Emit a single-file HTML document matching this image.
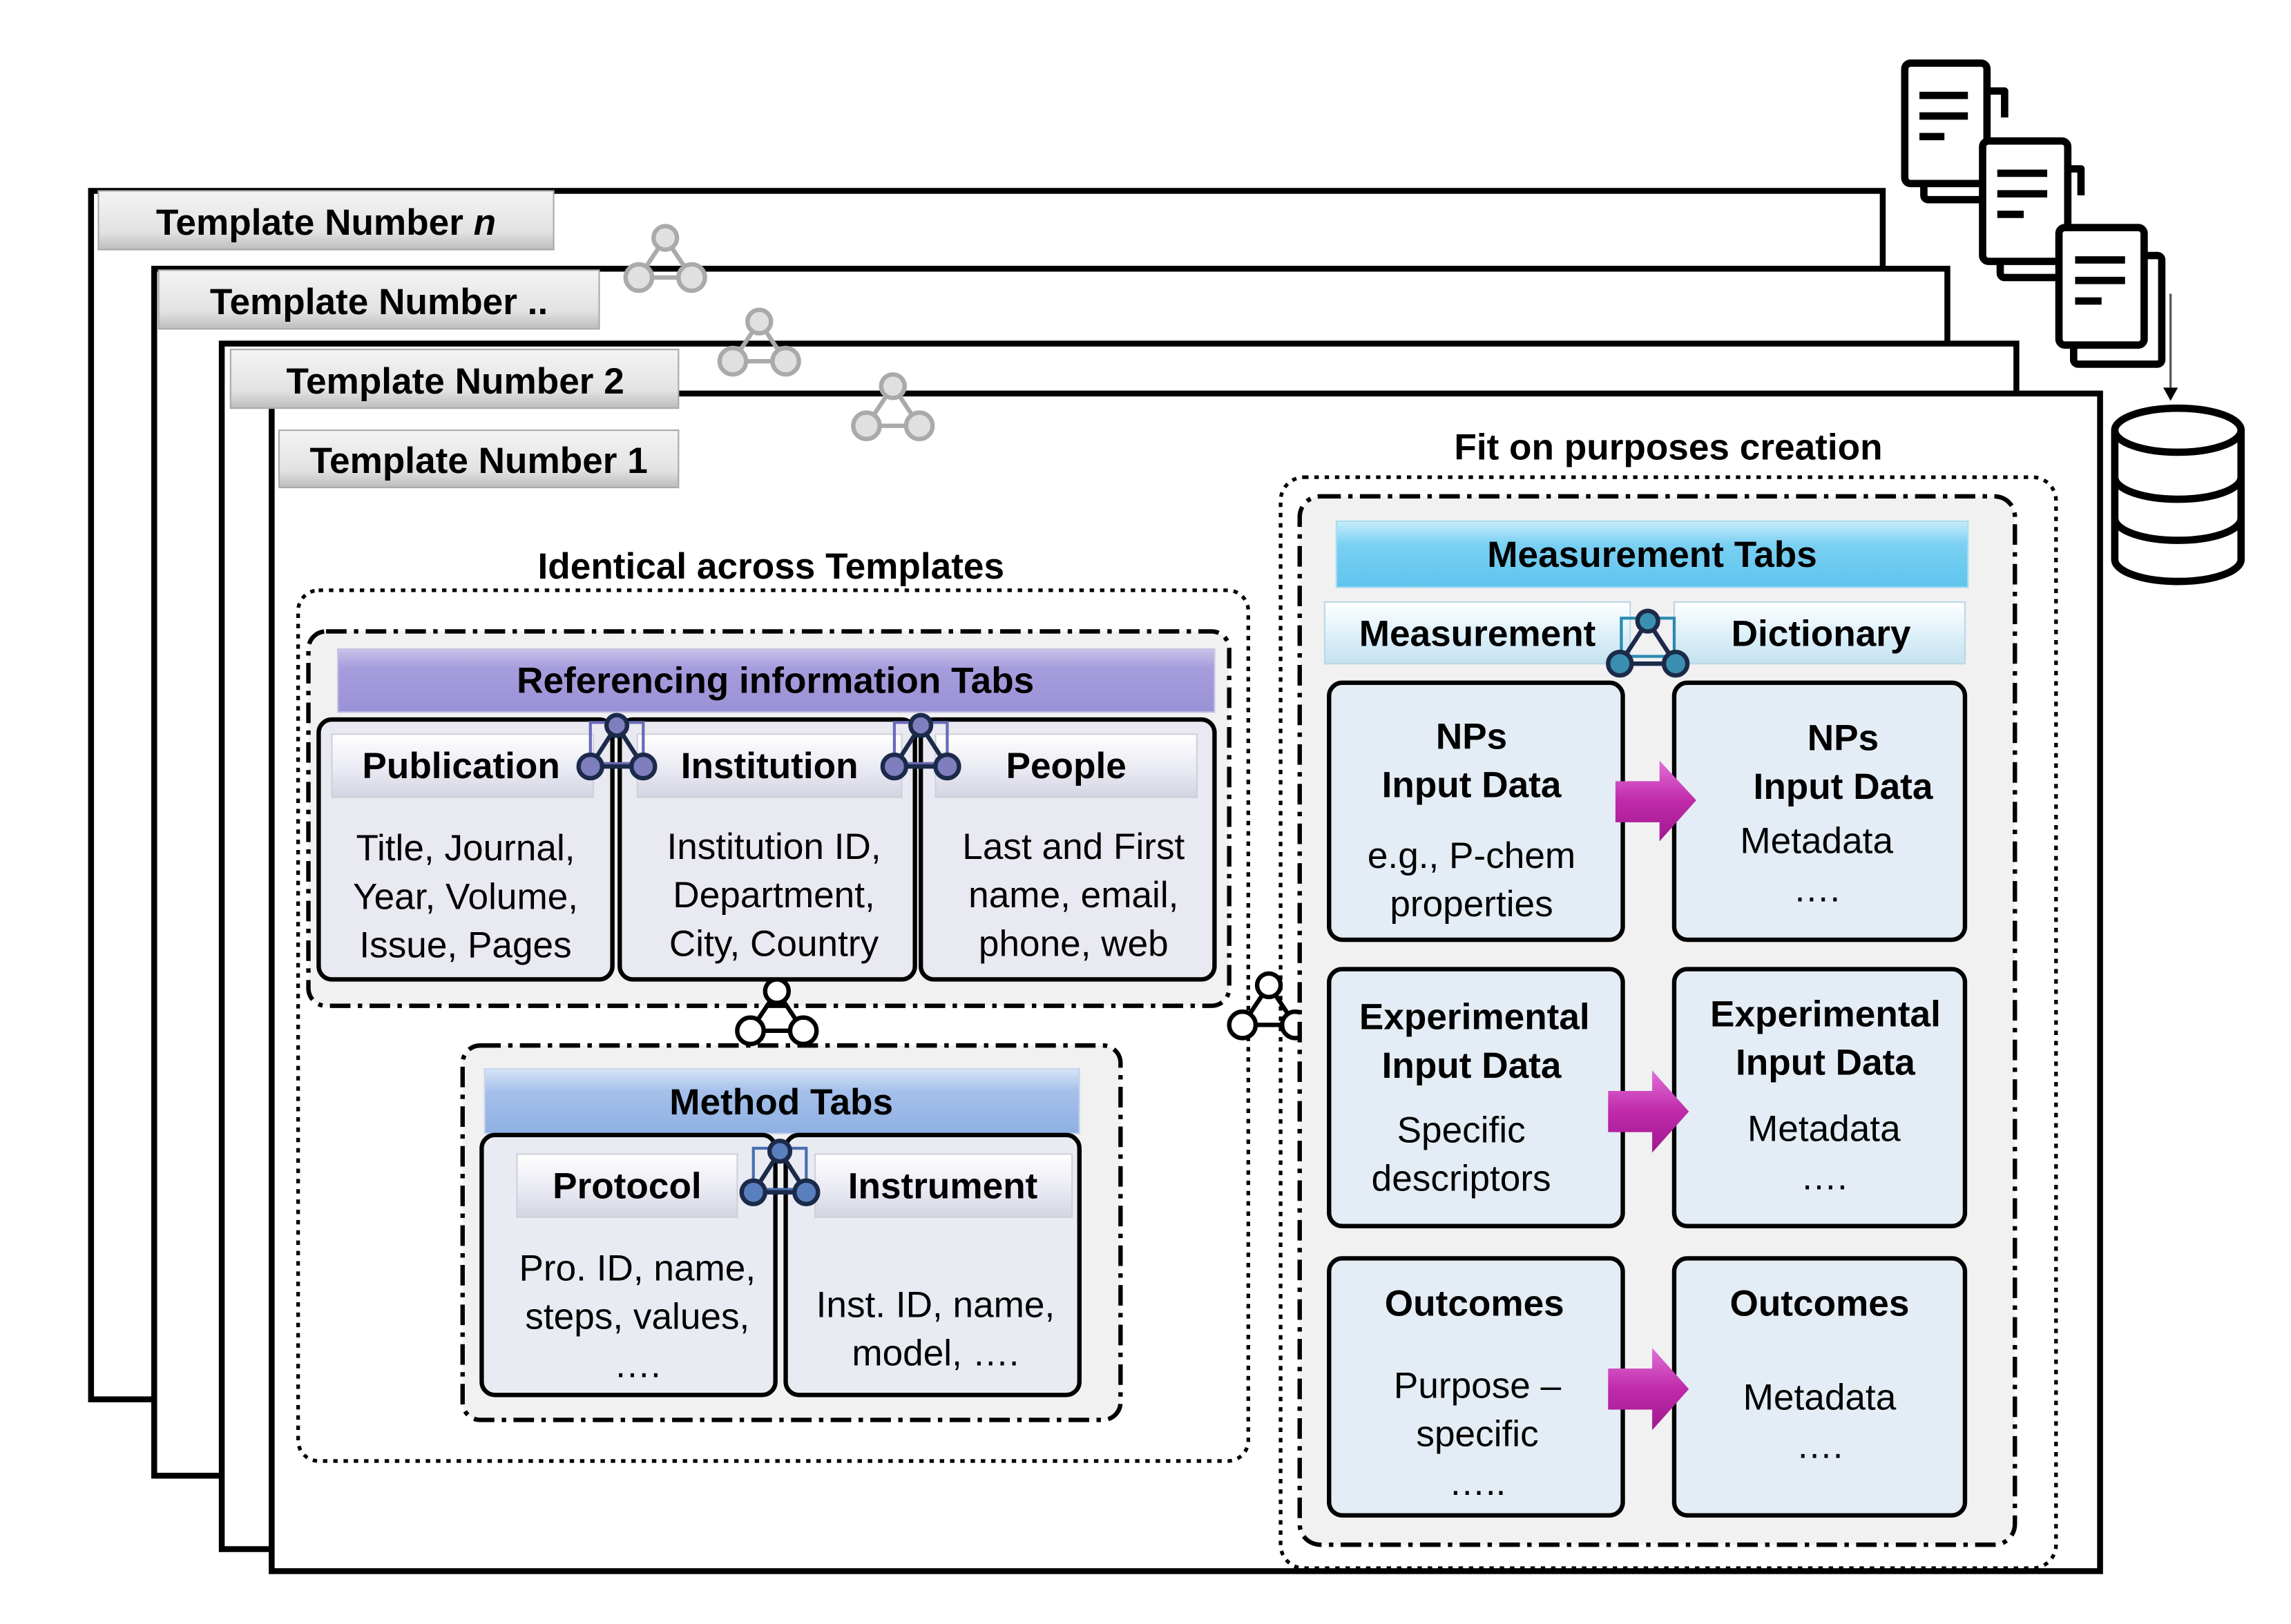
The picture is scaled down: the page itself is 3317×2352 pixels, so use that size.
<!DOCTYPE html>
<html><head><meta charset="utf-8">
<style>
html,body{margin:0;padding:0;background:#fff;}
svg{display:block;}
text{font-family:"Liberation Sans",Arial,sans-serif;fill:#000;}
.b{font-weight:bold;}
</style></head>
<body>
<svg width="3317" height="2352" viewBox="0 0 1560 1106" preserveAspectRatio="none" xmlns="http://www.w3.org/2000/svg">
<defs>
<linearGradient id="gray" x1="0" y1="0" x2="0" y2="1"><stop offset="0" stop-color="#f4f4f4"/><stop offset="0.7" stop-color="#e2e2e2"/><stop offset="1" stop-color="#bdbdbd"/></linearGradient>
<linearGradient id="purp" x1="0" y1="0" x2="0" y2="1"><stop offset="0" stop-color="#c9c3ea"/><stop offset="0.3" stop-color="#a59ddc"/><stop offset="1" stop-color="#9a92d6"/></linearGradient>
<linearGradient id="blue" x1="0" y1="0" x2="0" y2="1"><stop offset="0" stop-color="#d6e4f8"/><stop offset="0.35" stop-color="#a5c0ea"/><stop offset="1" stop-color="#8fb0e4"/></linearGradient>
<linearGradient id="cyan" x1="0" y1="0" x2="0" y2="1"><stop offset="0" stop-color="#c8ecfb"/><stop offset="0.35" stop-color="#7ad0f2"/><stop offset="1" stop-color="#5fc4ee"/></linearGradient>
<linearGradient id="sub" x1="0" y1="0" x2="0" y2="1"><stop offset="0" stop-color="#ffffff"/><stop offset="0.6" stop-color="#e8e8f2"/><stop offset="1" stop-color="#d4d4e2"/></linearGradient>
<linearGradient id="subc" x1="0" y1="0" x2="0" y2="1"><stop offset="0" stop-color="#ffffff"/><stop offset="0.6" stop-color="#d9eef8"/><stop offset="1" stop-color="#c4e2f0"/></linearGradient>
<linearGradient id="mag" x1="0" y1="0" x2="0" y2="1"><stop offset="0" stop-color="#e070d8"/><stop offset="0.5" stop-color="#c02aaa"/><stop offset="1" stop-color="#a01890"/></linearGradient>
</defs>

<!-- Template frames -->
<rect x="62" y="130" width="1220" height="823" fill="#fff" stroke="#000" stroke-width="4"/>
<rect x="105" y="183" width="1221" height="822" fill="#fff" stroke="#000" stroke-width="4"/>
<rect x="151" y="234" width="1222" height="821" fill="#fff" stroke="#000" stroke-width="4"/>
<rect x="185" y="268" width="1245" height="802" fill="#fff" stroke="#000" stroke-width="4"/>

<rect x="67" y="130" width="310" height="40" fill="url(#gray)" stroke="#aaa" stroke-width="1"/>
<text x="222" y="160" class="b" font-size="25" text-anchor="middle">Template Number <tspan font-style="italic">n</tspan></text>
<rect x="108" y="184" width="300" height="40" fill="url(#gray)" stroke="#aaa" stroke-width="1"/>
<text x="258" y="214" class="b" font-size="25" text-anchor="middle">Template Number ..</text>
<rect x="157" y="238" width="305" height="40" fill="url(#gray)" stroke="#aaa" stroke-width="1"/>
<text x="310" y="268" class="b" font-size="25" text-anchor="middle">Template Number 2</text>
<rect x="190" y="293" width="272" height="39" fill="url(#gray)" stroke="#aaa" stroke-width="1"/>
<text x="326" y="322" class="b" font-size="25" text-anchor="middle">Template Number 1</text>

<!-- gray network icons -->
<g fill="#e0e0e0" stroke="#aaa" stroke-width="3">
<g transform="translate(453,172)"><line x1="0" y1="-10" x2="-18" y2="17"/><line x1="0" y1="-10" x2="18" y2="17"/><line x1="-18" y1="17" x2="18" y2="17"/><circle cx="0" cy="-10" r="8"/><circle cx="-18" cy="17" r="9"/><circle cx="18" cy="17" r="9"/></g>
<g transform="translate(517,229)"><line x1="0" y1="-10" x2="-18" y2="17"/><line x1="0" y1="-10" x2="18" y2="17"/><line x1="-18" y1="17" x2="18" y2="17"/><circle cx="0" cy="-10" r="8"/><circle cx="-18" cy="17" r="9"/><circle cx="18" cy="17" r="9"/></g>
<g transform="translate(608,273)"><line x1="0" y1="-10" x2="-18" y2="17"/><line x1="0" y1="-10" x2="18" y2="17"/><line x1="-18" y1="17" x2="18" y2="17"/><circle cx="0" cy="-10" r="8"/><circle cx="-18" cy="17" r="9"/><circle cx="18" cy="17" r="9"/></g>
</g>

<!-- documents -->
<g fill="#fff" stroke="#000" stroke-width="5" stroke-linejoin="round">
<path d="M1340,62 h25 v18" fill="none"/>
<rect x="1310" y="110" width="45" height="26" rx="3"/>
<rect x="1297" y="43" width="56" height="82" rx="4"/>
<path d="M1395,115 h22 v18" fill="none"/>
<rect x="1362" y="165" width="45" height="24" rx="3"/>
<rect x="1350" y="96" width="58" height="82" rx="4"/>
<rect x="1412" y="174" width="60" height="74" rx="3"/>
<rect x="1402" y="155" width="58" height="80" rx="4"/>
</g>
<g stroke="#000" stroke-width="5">
<line x1="1307" y1="65" x2="1340" y2="65"/><line x1="1307" y1="79" x2="1340" y2="79"/><line x1="1307" y1="93" x2="1324" y2="93"/>
<line x1="1360" y1="118" x2="1394" y2="118"/><line x1="1360" y1="132" x2="1394" y2="132"/><line x1="1360" y1="146" x2="1378" y2="146"/>
<line x1="1413" y1="177" x2="1447" y2="177"/><line x1="1413" y1="191" x2="1447" y2="191"/><line x1="1413" y1="205" x2="1431" y2="205"/>
</g>
<line x1="1478" y1="200" x2="1478" y2="266" stroke="#555" stroke-width="1.5"/>
<polygon points="1473,264 1483,264 1478,273" fill="#000"/>
<!-- database -->
<g fill="#fff" stroke="#000" stroke-width="5">
<path d="M1440,293 v88 a43,15 0 0 0 86,0 v-88"/>
<ellipse cx="1483" cy="293" rx="43" ry="15"/>
<path d="M1440,325 a43,15 0 0 0 86,0" fill="none"/>
<path d="M1440,353 a43,15 0 0 0 86,0" fill="none"/>
</g>

<!-- Left region -->
<text x="525" y="394" class="b" font-size="25" text-anchor="middle">Identical across Templates</text>
<rect x="203" y="402" width="647" height="593" rx="14" fill="none" stroke="#000" stroke-width="2.5" stroke-dasharray="3,4"/>
<rect x="210" y="430" width="627" height="255" rx="12" fill="#f1f1f1" stroke="#000" stroke-width="3" stroke-dasharray="14,5,3,5"/>
<rect x="230" y="442" width="597" height="43" fill="url(#purp)" stroke="#c8c4e4" stroke-width="1"/>
<text x="528" y="472" class="b" font-size="25" text-anchor="middle">Referencing information Tabs</text>

<g fill="#e9e9f1" stroke="#000" stroke-width="3">
<rect x="217" y="490" width="200" height="177" rx="9"/>
<rect x="422" y="490" width="201" height="177" rx="9"/>
<rect x="627" y="490" width="200" height="177" rx="9"/>
</g>
<g fill="url(#sub)" stroke="#d0d0dc" stroke-width="1">
<rect x="226" y="500" width="178" height="43"/>
<rect x="434" y="500" width="180" height="43"/>
<rect x="637" y="500" width="178" height="43"/>
</g>
<text x="314" y="530" class="b" font-size="25" text-anchor="middle">Publication</text>
<text x="524" y="530" class="b" font-size="25" text-anchor="middle">Institution</text>
<text x="726" y="530" class="b" font-size="25" text-anchor="middle">People</text>
<g font-size="25" text-anchor="middle">
<text x="317" y="586">Title, Journal,</text><text x="317" y="619">Year, Volume,</text><text x="317" y="652">Issue, Pages</text>
<text x="527" y="585">Institution ID,</text><text x="527" y="618">Department,</text><text x="527" y="651">City, Country</text>
<text x="731" y="585">Last and First</text><text x="731" y="618">name, email,</text><text x="731" y="651">phone, web</text>
</g>

<!-- Method -->
<rect x="315" y="712" width="448" height="255" rx="12" fill="#f1f1f1" stroke="#000" stroke-width="3" stroke-dasharray="14,5,3,5"/>
<rect x="330" y="728" width="405" height="44" fill="url(#blue)" stroke="#c8d4ec" stroke-width="1"/>
<text x="532" y="759" class="b" font-size="25" text-anchor="middle">Method Tabs</text>
<g fill="#e9ebf3" stroke="#000" stroke-width="3">
<rect x="328" y="773" width="200" height="177" rx="9"/>
<rect x="535" y="773" width="200" height="177" rx="9"/>
</g>
<g fill="url(#sub)" stroke="#d0d0dc" stroke-width="1">
<rect x="352" y="786" width="150" height="43"/>
<rect x="555" y="786" width="175" height="43"/>
</g>
<text x="427" y="816" class="b" font-size="25" text-anchor="middle">Protocol</text>
<text x="642" y="816" class="b" font-size="25" text-anchor="middle">Instrument</text>
<g font-size="25" text-anchor="middle">
<text x="434" y="872">Pro. ID, name,</text><text x="434" y="905">steps, values,</text><text x="434" y="938">….</text>
<text x="637" y="897">Inst. ID, name,</text><text x="637" y="930">model, ….</text>
</g>

<!-- black network icons -->
<g fill="#fff" stroke="#000" stroke-width="3">
<g transform="translate(529,685)"><line x1="0" y1="-10" x2="-18" y2="17"/><line x1="0" y1="-10" x2="18" y2="17"/><line x1="-18" y1="17" x2="18" y2="17"/><circle cx="0" cy="-10" r="8"/><circle cx="-18" cy="17" r="9"/><circle cx="18" cy="17" r="9"/></g>
<g transform="translate(864,681)"><line x1="0" y1="-10" x2="-18" y2="17"/><line x1="0" y1="-10" x2="18" y2="17"/><line x1="-18" y1="17" x2="18" y2="17"/><circle cx="0" cy="-10" r="8"/><circle cx="-18" cy="17" r="9"/><circle cx="18" cy="17" r="9"/></g>
</g>
<g stroke="#1c2a4a" stroke-width="3">
<g transform="translate(420,500)" fill="#7f7fbf"><rect x="-18" y="-8" width="36" height="28" fill="none" stroke="#6a6ab8" stroke-width="2"/><line x1="0" y1="-6" x2="-18" y2="22"/><line x1="0" y1="-6" x2="18" y2="22"/><line x1="-18" y1="22" x2="18" y2="22"/><circle cx="0" cy="-6" r="7"/><circle cx="-18" cy="22" r="8"/><circle cx="18" cy="22" r="8"/></g>
<g transform="translate(627,500)" fill="#7f7fbf"><rect x="-18" y="-8" width="36" height="28" fill="none" stroke="#6a6ab8" stroke-width="2"/><line x1="0" y1="-6" x2="-18" y2="22"/><line x1="0" y1="-6" x2="18" y2="22"/><line x1="-18" y1="22" x2="18" y2="22"/><circle cx="0" cy="-6" r="7"/><circle cx="-18" cy="22" r="8"/><circle cx="18" cy="22" r="8"/></g>
<g transform="translate(531,790)" fill="#5a7fbf"><rect x="-18" y="-8" width="36" height="28" fill="none" stroke="#4a6fb0" stroke-width="2"/><line x1="0" y1="-6" x2="-18" y2="22"/><line x1="0" y1="-6" x2="18" y2="22"/><line x1="-18" y1="22" x2="18" y2="22"/><circle cx="0" cy="-6" r="7"/><circle cx="-18" cy="22" r="8"/><circle cx="18" cy="22" r="8"/></g>
</g>

<!-- Right region -->
<text x="1136" y="313" class="b" font-size="25" text-anchor="middle">Fit on purposes creation</text>
<rect x="872" y="325" width="528" height="743" rx="16" fill="none" stroke="#000" stroke-width="2.5" stroke-dasharray="3,4"/>
<rect x="885" y="338" width="487" height="714" rx="14" fill="#f1f1f1" stroke="#000" stroke-width="3" stroke-dasharray="14,5,3,5"/>
<rect x="910" y="355" width="430" height="45" fill="url(#cyan)" stroke="#a8dcf0" stroke-width="1"/>
<text x="1125" y="386" class="b" font-size="25" text-anchor="middle">Measurement Tabs</text>
<g fill="url(#subc)" stroke="#b8d8e8" stroke-width="1">
<rect x="902" y="410" width="208" height="42"/>
<rect x="1140" y="410" width="198" height="42"/>
</g>
<text x="1006" y="440" class="b" font-size="25" text-anchor="middle">Measurement</text>
<text x="1240" y="440" class="b" font-size="25" text-anchor="middle">Dictionary</text>

<g fill="#e4edf5" stroke="#000" stroke-width="3">
<rect x="905" y="465" width="200" height="175" rx="9"/>
<rect x="1140" y="465" width="198" height="175" rx="9"/>
<rect x="905" y="660" width="200" height="175" rx="9"/>
<rect x="1140" y="660" width="198" height="175" rx="9"/>
<rect x="905" y="857" width="200" height="175" rx="9"/>
<rect x="1140" y="857" width="198" height="175" rx="9"/>
</g>
<g stroke="#1c2a4a" stroke-width="3">
<g transform="translate(1122,427)" fill="#3a8fb0"><rect x="-18" y="-6" width="36" height="26" fill="none" stroke="#2a8ab0" stroke-width="2"/><line x1="0" y1="-4" x2="-19" y2="25"/><line x1="0" y1="-4" x2="19" y2="25"/><line x1="-19" y1="25" x2="19" y2="25"/><circle cx="0" cy="-4" r="7"/><circle cx="-19" cy="25" r="8"/><circle cx="19" cy="25" r="8"/></g>
</g>
<g font-size="25" text-anchor="middle">
<text x="1002" y="510" class="b">NPs</text><text x="1002" y="543" class="b">Input Data</text>
<text x="1002" y="591">e.g., P-chem</text><text x="1002" y="624">properties</text>
<text x="1255" y="511" class="b">NPs</text><text x="1255" y="544" class="b">Input Data</text>
<text x="1237" y="581">Metadata</text><text x="1237" y="614">….</text>
<text x="1004" y="701" class="b">Experimental</text><text x="1002" y="734" class="b">Input Data</text>
<text x="995" y="778">Specific</text><text x="995" y="811">descriptors</text>
<text x="1243" y="699" class="b">Experimental</text><text x="1243" y="732" class="b">Input Data</text>
<text x="1242" y="777">Metadata</text><text x="1242" y="810">….</text>
<text x="1004" y="896" class="b">Outcomes</text>
<text x="1006" y="952">Purpose –</text><text x="1006" y="985">specific</text><text x="1006" y="1018">…..</text>
<text x="1239" y="896" class="b">Outcomes</text>
<text x="1239" y="960">Metadata</text><text x="1239" y="993">….</text>
</g>
<g fill="url(#mag)">
<polygon points="1100,532 1130,532 1130,518 1155,545 1130,573 1130,560 1100,560"/>
<polygon points="1095,743 1125,743 1125,729 1150,757 1125,785 1125,771 1095,771"/>
<polygon points="1095,932 1125,932 1125,918 1150,946 1125,974 1125,960 1095,960"/>
</g>
</svg>
</body></html>
